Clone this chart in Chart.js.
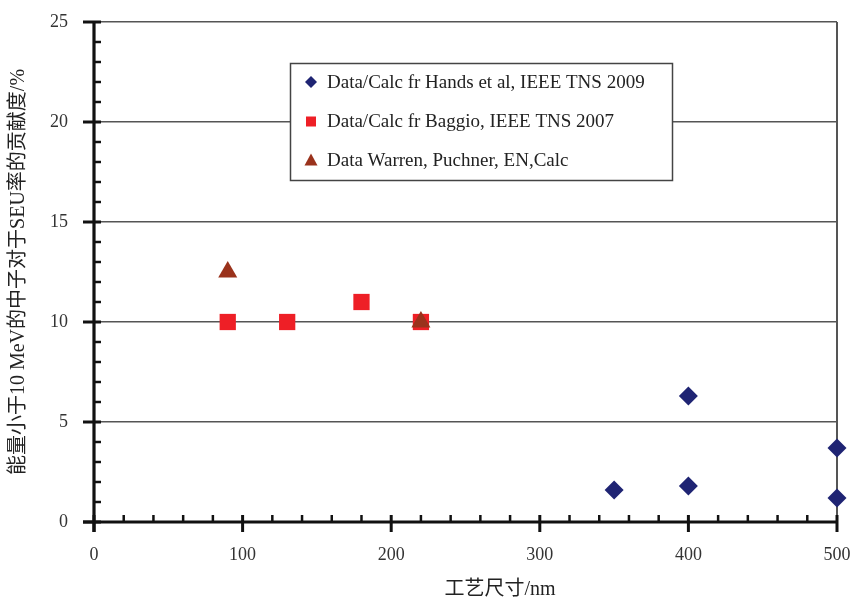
<!DOCTYPE html>
<html>
<head>
<meta charset="utf-8">
<script src="https://cdn.jsdelivr.net/npm/chart.js@4.4.1/dist/chart.umd.min.js"></script>
<style>
html,body{margin:0;padding:0;background:#fff;}
#wrap{position:relative;width:854px;height:601px;}
</style>
</head>
<body>
<div id="wrap"><canvas id="c" width="854" height="601"></canvas></div>
<script>
// ---- data ----
const handsLabel = 'Data/Calc fr Hands et al, IEEE TNS 2009';
const handsX = [350, 400, 400, 500, 500];
const handsY = [1.6, 1.8, 6.3, 3.7, 1.2];

const baggioLabel = 'Data/Calc fr Baggio, IEEE TNS 2007';
const baggioX = [90, 130, 180, 220];
const baggioY = [10, 10, 11, 10];

const warrenLabel = 'Data Warren, Puchner, EN,Calc';
const warrenX = [90, 220];
const warrenY = [12.5, 10];

const xTitle = '工艺尺寸/nm';
const yTitle = '能量小于10 MeV的中子对于SEU率的贡献度/%';
const xTicks = [0, 100, 200, 300, 400, 500];
const yTicks = [0, 5, 10, 15, 20, 25];

const FONT = "'Liberation Serif', 'Noto Sans CJK SC', serif";

function pts(xs, ys){ return xs.map((x,i)=>({x:x, y:ys[i]})); }

const axisPlugin = {
  id: 'axisPlugin',
  beforeDatasetsDraw(chart){
    const ctx = chart.ctx;
    const xs = chart.scales.x, ys = chart.scales.y;
    const x0 = xs.getPixelForValue(0), x5 = xs.getPixelForValue(500);
    const y0 = ys.getPixelForValue(0), y25 = ys.getPixelForValue(25);
    ctx.save();
    // right border
    ctx.strokeStyle = '#555'; ctx.lineWidth = 2;
    ctx.beginPath(); ctx.moveTo(x5, y25); ctx.lineTo(x5, y0); ctx.stroke();
    ctx.strokeStyle = '#111';
    ctx.lineCap = 'butt';
    // y minor ticks
    ctx.lineWidth = 2.5;
    for (let v = 1; v < 25; v++) {
      if (v % 5 === 0) continue;
      const p = ys.getPixelForValue(v);
      ctx.beginPath(); ctx.moveTo(x0, p); ctx.lineTo(x0 + 7, p); ctx.stroke();
    }
    // y major ticks
    ctx.lineWidth = 3;
    yTicks.forEach(v => {
      const p = ys.getPixelForValue(v);
      ctx.beginPath(); ctx.moveTo(x0 - 11, p); ctx.lineTo(x0 + 7, p); ctx.stroke();
    });
    // x minor ticks
    ctx.lineWidth = 2.5;
    for (let v = 20; v < 500; v += 20) {
      if (v % 100 === 0) continue;
      const p = xs.getPixelForValue(v);
      ctx.beginPath(); ctx.moveTo(p, y0); ctx.lineTo(p, y0 - 7); ctx.stroke();
    }
    // x major ticks
    ctx.lineWidth = 3;
    xTicks.forEach(v => {
      const p = xs.getPixelForValue(v);
      ctx.beginPath(); ctx.moveTo(p, y0 - 7); ctx.lineTo(p, y0 + 10); ctx.stroke();
    });
    // axes lines
    ctx.lineWidth = 3.2;
    ctx.beginPath(); ctx.moveTo(x0, y25 - 1); ctx.lineTo(x0, y0 + 10); ctx.stroke();
    ctx.beginPath(); ctx.moveTo(x0 - 11, y0); ctx.lineTo(x5, y0); ctx.stroke();
    // x title
    ctx.fillStyle = '#222';
    ctx.font = "20px " + FONT;
    ctx.textAlign = 'center'; ctx.textBaseline = 'middle';
    ctx.fillText(xTitle, 500, 590);
    ctx.restore();
  },
  afterDatasetsDraw(chart){
    const ctx = chart.ctx;
    ctx.save();
    const bx = 290.5, by = 63.5, bw = 382, bh = 117;
    ctx.fillStyle = '#fff';
    ctx.fillRect(bx, by, bw, bh);
    ctx.strokeStyle = '#444'; ctx.lineWidth = 1.5;
    ctx.strokeRect(bx, by, bw, bh);
    const rows = [82, 121.5, 160.5];
    chart.data.datasets.forEach((ds, i) => {
      const cx = 311, cy = rows[i];
      ctx.fillStyle = ds.backgroundColor;
      ctx.beginPath();
      if (ds.pointStyle === 'rectRot') {
        const r = 6;
        ctx.moveTo(cx, cy - r); ctx.lineTo(cx + r, cy); ctx.lineTo(cx, cy + r); ctx.lineTo(cx - r, cy); ctx.closePath();
      } else if (ds.pointStyle === 'rect') {
        ctx.rect(cx - 5, cy - 5, 10, 10);
      } else {
        ctx.moveTo(cx, cy - 7); ctx.lineTo(cx + 6.5, cy + 5); ctx.lineTo(cx - 6.5, cy + 5); ctx.closePath();
      }
      ctx.fill();
      ctx.fillStyle = '#222';
      ctx.font = "19px " + FONT;
      ctx.textAlign = 'left'; ctx.textBaseline = 'middle';
      ctx.fillText(ds.label, 327, cy + 1);
    });
    ctx.restore();
  }
};

new Chart(document.getElementById('c'), {
  type: 'scatter',
  data: {
    datasets: [
      { label: handsLabel, data: pts(handsX, handsY), pointStyle: 'rectRot', order: 2, clip: false,
        backgroundColor: '#1f2473', borderColor: '#1f2473', borderWidth: 0, pointRadius: 9.5, pointHoverRadius: 9.5 },
      { label: baggioLabel, data: pts(baggioX, baggioY), pointStyle: 'rect', order: 1, clip: false,
        backgroundColor: '#ee1f26', borderColor: '#ee1f26', borderWidth: 0, pointRadius: 11.5, pointHoverRadius: 11.5 },
      { label: warrenLabel, data: pts(warrenX, warrenY), pointStyle: 'triangle', order: 0, clip: false,
        backgroundColor: '#9a321c', borderColor: '#9a321c', borderWidth: 0, pointRadius: 11, pointHoverRadius: 11 }
    ]
  },
  options: {
    responsive: false,
    animation: false,
    events: [],
    layout: { padding: { left: 0, top: 22, right: 17, bottom: 0 } },
    plugins: { legend: { display: false }, tooltip: { enabled: false } },
    scales: {
      x: {
        type: 'linear', min: 0, max: 500,
        afterFit(s){ s.height = 79; s.paddingLeft = 0; s.paddingRight = 0; },
        afterBuildTicks(s){ s.ticks = xTicks.map(v => ({value: v})); },
        grid: { display: false, drawTicks: false },
        border: { display: false },
        ticks: { color: '#333', font: { family: FONT, size: 18 }, padding: 22, maxRotation: 0, autoSkip: false }
      },
      y: {
        type: 'linear', min: 0, max: 25,
        afterFit(s){ s.width = 94; s.paddingTop = 0; s.paddingBottom = 0; },
        afterBuildTicks(s){ s.ticks = yTicks.map(v => ({value: v})); },
        grid: { display: true, drawTicks: false, color: '#555', lineWidth: 1.5 },
        border: { display: false },
        ticks: { color: '#333', font: { family: FONT, size: 18 }, padding: 26, autoSkip: false },
        title: { display: true, text: yTitle, color: '#222', font: { family: FONT, size: 20, lineHeight: 1.2 }, padding: { top: 7, bottom: 0 } }
      }
    }
  },
  plugins: [axisPlugin]
});
</script>
</body>
</html>
